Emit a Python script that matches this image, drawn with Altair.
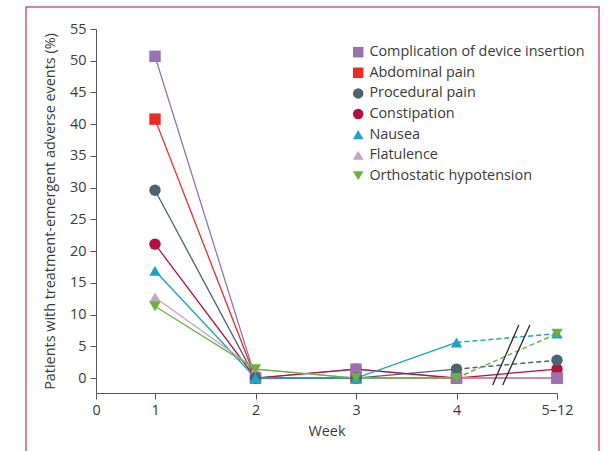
import altair as alt
import pandas as pd

# Weeks on the x axis (5 stands for the pooled 5–12 period)
weeks = [1, 2, 3, 4, 5]

series = [
    "Complication of device insertion",
    "Abdominal pain",
    "Procedural pain",
    "Constipation",
    "Nausea",
    "Flatulence",
    "Orthostatic hypotension",
]

# Percentage of patients with each treatment-emergent adverse event, per week
complication = [50.7, 0.0, 1.4, 0.0, 0.0]
abdominal = [40.8, 0.0, 0.0, 0.0, 0.0]
procedural = [29.6, 0.0, 0.0, 1.4, 2.8]
constipation = [21.1, 0.0, 1.4, 0.0, 1.4]
nausea = [16.9, 0.0, 0.0, 5.6, 7.0]
flatulence = [12.7, 1.4, 0.0, 0.0, 0.0]
orthostatic = [11.3, 1.4, 0.0, 0.0, 7.0]

values = [complication, abdominal, procedural, constipation, nausea, flatulence, orthostatic]

# Series whose week 4 -> 5–12 segment is dashed
dashed_tail = ["Procedural pain", "Nausea", "Orthostatic hypotension"]

colors = ["#9A72B2", "#EE2A24", "#4B6472", "#B3103F", "#19A4C8", "#C9A2C8", "#6AB23A"]
shapes = ["square", "square", "circle", "circle", "triangle-up", "triangle-up", "triangle-down"]

# Stacking order of the markers (later = drawn on top)
marker_order = [
    "Flatulence",
    "Abdominal pain",
    "Constipation",
    "Complication of device insertion",
    "Procedural pain",
    "Nausea",
    "Orthostatic hypotension",
]

# Axis-break slashes between week 4 and 5–12 (data units)
break_x = [4.36, 4.46]
break_x2 = [4.62, 4.73]
break_y = [-1.1, -1.1]
break_y2 = [8.35, 8.35]

rows = []
for name, vals in zip(series, values):
    for w, v in zip(weeks, vals):
        rows.append({"series": name, "week": w, "pct": v})
df = pd.DataFrame(rows)

solid = df[df["week"] <= 4].copy()
tail_rows = df[df["week"] >= 4].copy()
tail_solid = tail_rows[~tail_rows["series"].isin(dashed_tail)]
tail_dash = tail_rows[tail_rows["series"].isin(dashed_tail)]
points = pd.concat(
    [df[df["series"] == s] for s in marker_order], ignore_index=True
)
breaks = pd.DataFrame({"week": break_x, "x2": break_x2, "pct": break_y, "y2": break_y2})

FONT = "Open Sans"
TXT = "#3a3a3a"
AX = "#555555"
FS = 14.4

x_scale = alt.Scale(domain=[0, 1, 5], range=[0, 59, 461], zero=False, nice=False)
y_scale = alt.Scale(domain=[-2.36, 55], zero=False, nice=False)
color_scale = alt.Scale(domain=series, range=colors)
shape_scale = alt.Scale(domain=series, range=shapes)

common_axis = dict(
    grid=False,
    domainColor=AX,
    tickColor=AX,
    tickSize=6,
    labelPadding=4,
    labelFontSize=FS,
    titleFontSize=FS,
    labelColor=TXT,
    titleColor=TXT,
    labelFont=FONT,
    titleFont=FONT,
    titleFontWeight="normal",
    labelOverlap=False,
    labelFlush=False,
    labelBound=False,
)

x_axis = alt.Axis(
    title="Week",
    values=[0, 1, 2, 3, 4, 5],
    format="d",
    labelExpr="datum.value == 5 ? '5–12' : datum.label",
    titlePadding=8,
    **common_axis,
)
y_axis = alt.Axis(
    title="Patients with treatment-emergent adverse events (%)",
    values=list(range(0, 60, 5)),
    format="d",
    titlePadding=12,
    **common_axis,
)

X = alt.X("week:Q", scale=x_scale, axis=x_axis)
Y = alt.Y("pct:Q", scale=y_scale, axis=y_axis)
C = alt.Color("series:N", scale=color_scale, legend=None)

legend_cfg = dict(
    title=None,
    orient="none",
    legendX=255,
    legendY=16,
    labelFont=FONT,
    labelFontSize=FS,
    labelColor=TXT,
    symbolSize=110,
    symbolStrokeWidth=0,
    rowPadding=5.6,
    labelOffset=4,
    labelLimit=400,
)

frame = alt.Chart(pd.DataFrame({"k": [0]})).mark_rect(
    filled=False, stroke="#D05A7E", strokeWidth=1.5
).encode(
    x=alt.value(-70), x2=alt.value(503), y=alt.value(-22), y2=alt.value(440)
)

lines = alt.Chart(solid).mark_line(strokeWidth=1.3).encode(
    x=X, y=Y, color=C, detail="series:N"
)
tail1 = alt.Chart(tail_solid).mark_line(strokeWidth=1.3).encode(
    x=X, y=Y, color=C, detail="series:N"
)
tail2 = alt.Chart(tail_dash).mark_line(strokeWidth=1.5, strokeDash=[5, 3]).encode(
    x=X, y=Y, color=C, detail="series:N"
)
slashes = alt.Chart(breaks).mark_rule(color="#2b2b2b", strokeWidth=1.3).encode(
    x=X, x2="x2:Q", y=Y, y2="y2:Q"
)
marks = alt.Chart(points).mark_point(filled=True, opacity=1, size=130).encode(
    x=X,
    y=Y,
    color=alt.Color("series:N", scale=color_scale, legend=alt.Legend(**legend_cfg)),
    shape=alt.Shape("series:N", scale=shape_scale, legend=alt.Legend(**legend_cfg)),
)

chart = (
    alt.layer(frame, lines, tail1, tail2, slashes, marks)
    .resolve_legend(color="independent", shape="independent")
    .properties(
        width=461,
        height=364,
        autosize=alt.AutoSizeParams(type="none"),
        padding={"left": 96, "top": 29, "right": 51, "bottom": 58},
        background="white",
    )
    .configure_view(stroke=None)
)

chart.save("out.html", embed_options={"renderer": "svg", "actions": False})
